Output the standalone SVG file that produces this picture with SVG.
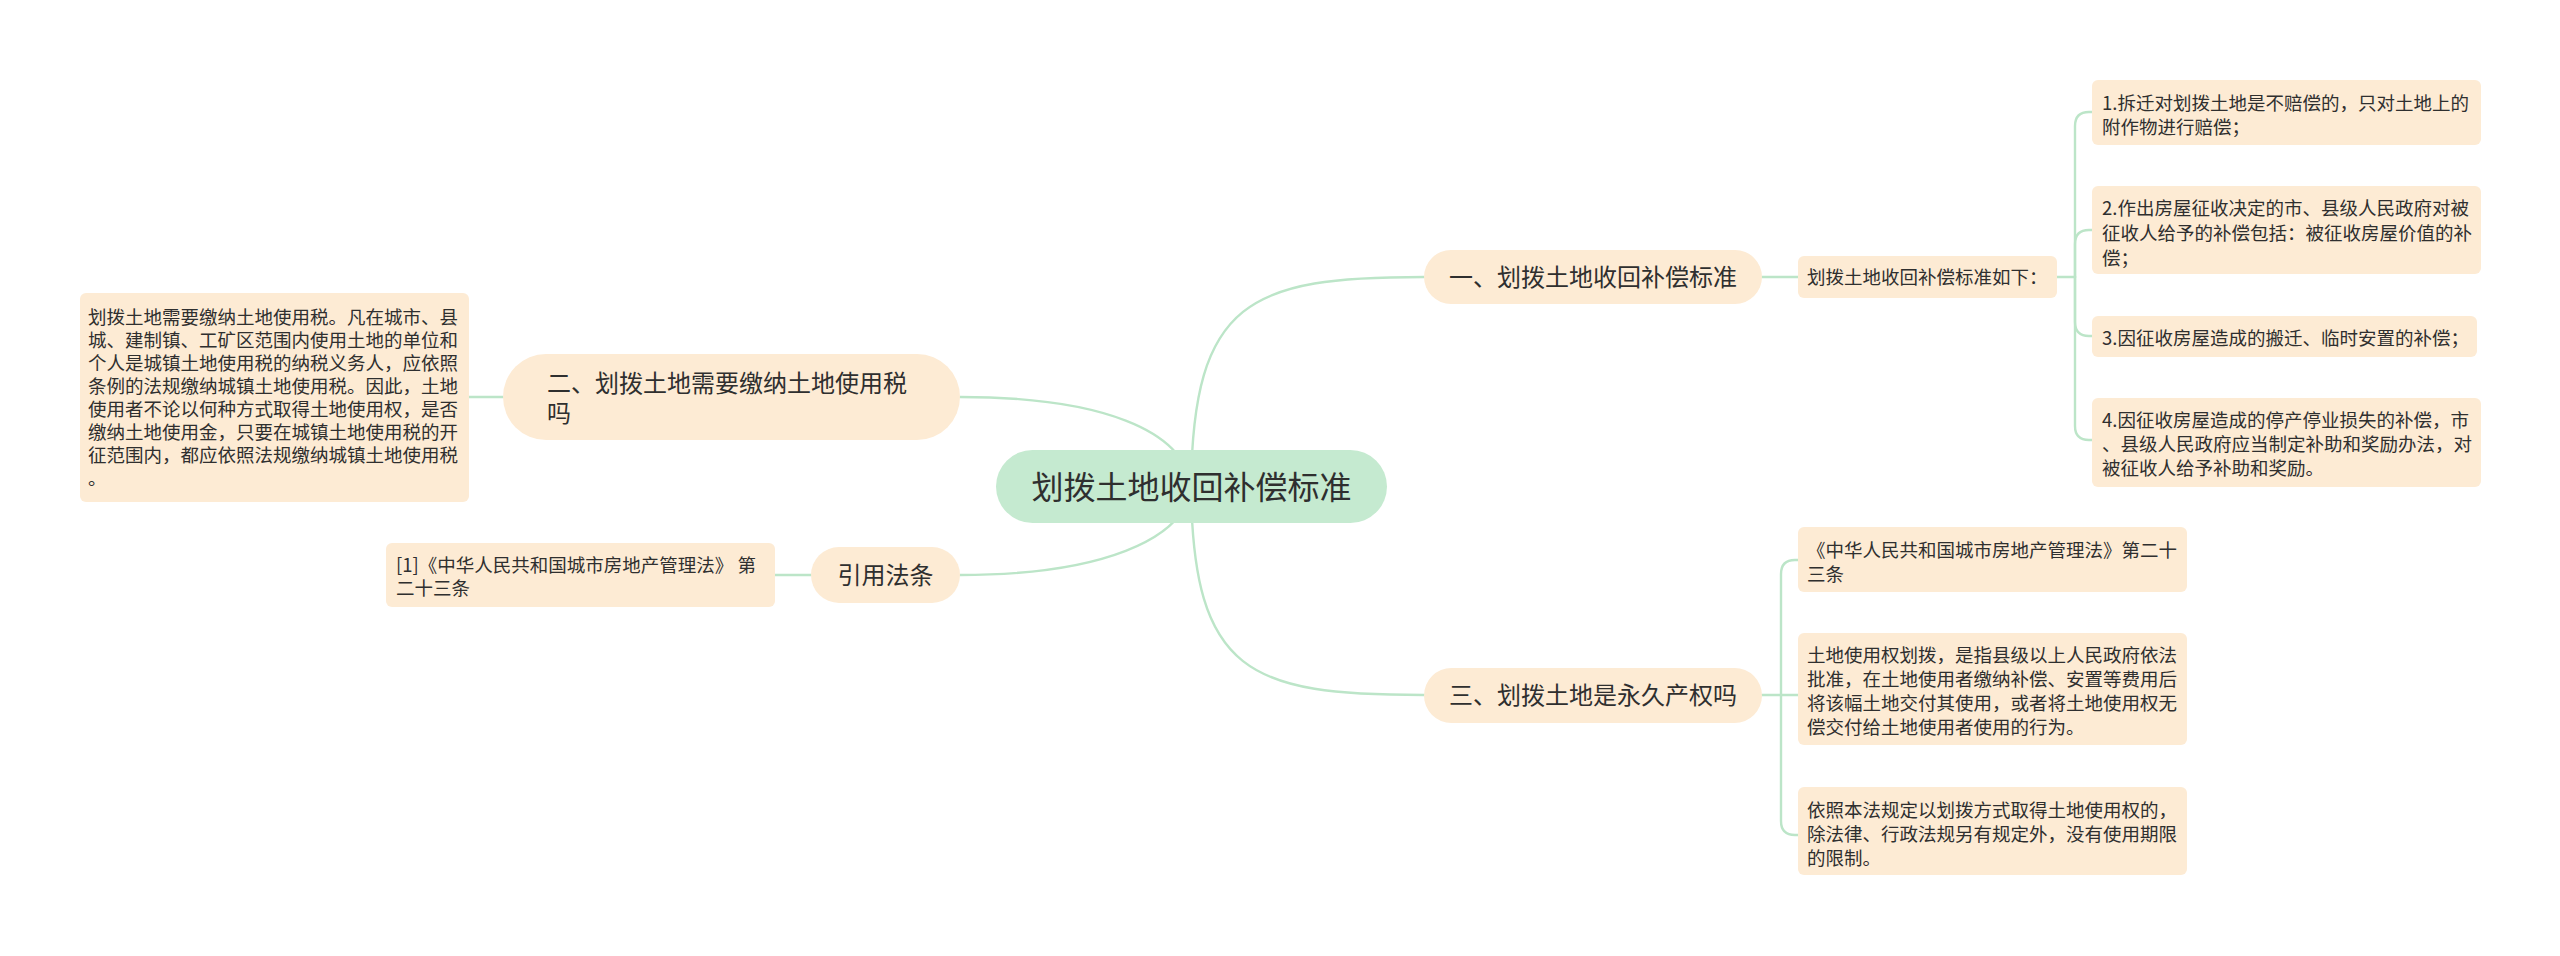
<svg xmlns="http://www.w3.org/2000/svg" width="2560" height="956" viewBox="0 0 2560 956">
<style>
.bg{fill:#ffffff}
.ln{fill:none;stroke:#bce5c8;stroke-width:2.4;stroke-linecap:round}
.pill{fill:#fdebd4}
.leaf{fill:#fdebd4}
.root{fill:#c5ead0}
text{font-family:"Noto Sans CJK SC","Noto Sans",sans-serif;fill:#2f2f2f}
.t32{font-size:32px}
.t24{font-size:24px}
.t18{font-size:18.5px}
.mid{text-anchor:middle}
</style>
<rect class="bg" x="0" y="0" width="2560" height="956"/>
<g id="connectors">
  <path class="ln" d="M1191,487 C1193,300 1250,277 1424,277"/>
  <path class="ln" d="M1191,487 C1193,674 1250,695 1424,695"/>
  <path class="ln" d="M1191,487 C1185,430 1100,397 960,397"/>
  <path class="ln" d="M1191,487 C1185,540 1100,575 960,575"/>
  <path class="ln" d="M469,397 L503,397"/>
  <path class="ln" d="M775,575 L811,575"/>
  <path class="ln" d="M1762,277 L1798,277"/>
  <path class="ln" d="M2057,277 L2075,277"/>
  <path class="ln" d="M2075,277 L2075,126 Q2075,112 2089,112 L2092,112"/>
  <path class="ln" d="M2075,277 L2075,244 Q2075,230 2089,230 L2092,230"/>
  <path class="ln" d="M2075,277 L2075,322 Q2075,336 2089,336 L2092,336"/>
  <path class="ln" d="M2075,277 L2075,426 Q2075,440 2089,440 L2092,440"/>
  <path class="ln" d="M1762,695 L1781,695"/>
  <path class="ln" d="M1781,695 L1781,574 Q1781,560 1795,560 L1798,560"/>
  <path class="ln" d="M1781,695 L1798,695"/>
  <path class="ln" d="M1781,695 L1781,821 Q1781,835 1795,835 L1798,835"/>
</g>
<g id="root">
  <rect class="root" x="996" y="450" width="391" height="73" rx="36.5"/>
  <text class="t32 mid" x="1191.5" y="499">划拨土地收回补偿标准</text>
</g>
<g id="node-1">
  <rect class="pill" x="1424" y="250" width="338" height="54" rx="27"/>
  <text class="t24 mid" x="1593" y="286">一、划拨土地收回补偿标准</text>
</g>
<g id="leaf-1-0">
  <rect class="leaf" x="1798" y="256" width="259" height="42" rx="6"/>
  <text class="t18" x="1807" y="284">划拨土地收回补偿标准如下：</text>
</g>
<g id="leaf-1-1">
  <rect class="leaf" x="2092" y="80" width="389" height="65" rx="6"/>
  <text class="t18" x="2102" y="110">1.拆迁对划拨土地是不赔偿的，只对土地上的</text>
  <text class="t18" x="2102" y="134">附作物进行赔偿；</text>
</g>
<g id="leaf-1-2">
  <rect class="leaf" x="2092" y="186" width="389" height="88" rx="6"/>
  <text class="t18" x="2102" y="215">2.作出房屋征收决定的市、县级人民政府对被</text>
  <text class="t18" x="2102" y="240">征收人给予的补偿包括：被征收房屋价值的补</text>
  <text class="t18" x="2102" y="265">偿；</text>
</g>
<g id="leaf-1-3">
  <rect class="leaf" x="2092" y="316" width="385" height="41" rx="6"/>
  <text class="t18" x="2102" y="345">3.因征收房屋造成的搬迁、临时安置的补偿；</text>
</g>
<g id="leaf-1-4">
  <rect class="leaf" x="2092" y="398" width="389" height="89" rx="6"/>
  <text class="t18" x="2102" y="427">4.因征收房屋造成的停产停业损失的补偿，市</text>
  <text class="t18" x="2102" y="451">、县级人民政府应当制定补助和奖励办法，对</text>
  <text class="t18" x="2102" y="475">被征收人给予补助和奖励。</text>
</g>
<g id="node-3">
  <rect class="pill" x="1424" y="668" width="338" height="55" rx="27.5"/>
  <text class="t24 mid" x="1593" y="704">三、划拨土地是永久产权吗</text>
</g>
<g id="leaf-3-1">
  <rect class="leaf" x="1798" y="527" width="389" height="65" rx="6"/>
  <text class="t18" x="1807" y="557">《中华人民共和国城市房地产管理法》第二十</text>
  <text class="t18" x="1807" y="581">三条</text>
</g>
<g id="leaf-3-2">
  <rect class="leaf" x="1798" y="633" width="389" height="112" rx="6"/>
  <text class="t18" x="1807" y="662">土地使用权划拨，是指县级以上人民政府依法</text>
  <text class="t18" x="1807" y="686">批准，在土地使用者缴纳补偿、安置等费用后</text>
  <text class="t18" x="1807" y="710">将该幅土地交付其使用，或者将土地使用权无</text>
  <text class="t18" x="1807" y="734">偿交付给土地使用者使用的行为。</text>
</g>
<g id="leaf-3-3">
  <rect class="leaf" x="1798" y="787" width="389" height="88" rx="6"/>
  <text class="t18" x="1807" y="817">依照本法规定以划拨方式取得土地使用权的，</text>
  <text class="t18" x="1807" y="841">除法律、行政法规另有规定外，没有使用期限</text>
  <text class="t18" x="1807" y="865">的限制。</text>
</g>
<g id="node-2">
  <rect class="pill" x="503" y="354" width="457" height="86" rx="43"/>
  <text class="t24" x="547" y="392">二、划拨土地需要缴纳土地使用税</text>
  <text class="t24" x="547" y="422">吗</text>
</g>
<g id="leaf-2-1">
  <rect class="leaf" x="80" y="293" width="389" height="209" rx="6"/>
  <text class="t18" x="88" y="324">划拨土地需要缴纳土地使用税。凡在城市、县</text>
  <text class="t18" x="88" y="347">城、建制镇、工矿区范围内使用土地的单位和</text>
  <text class="t18" x="88" y="370">个人是城镇土地使用税的纳税义务人，应依照</text>
  <text class="t18" x="88" y="393">条例的法规缴纳城镇土地使用税。因此，土地</text>
  <text class="t18" x="88" y="416">使用者不论以何种方式取得土地使用权，是否</text>
  <text class="t18" x="88" y="439">缴纳土地使用金，只要在城镇土地使用税的开</text>
  <text class="t18" x="88" y="462">征范围内，都应依照法规缴纳城镇土地使用税</text>
  <text class="t18" x="88" y="485">。</text>
</g>
<g id="node-4">
  <rect class="pill" x="811" y="547" width="149" height="56" rx="28"/>
  <text class="t24 mid" x="885.5" y="584">引用法条</text>
</g>
<g id="leaf-4-1">
  <rect class="leaf" x="386" y="543" width="389" height="64" rx="6"/>
  <text class="t18" x="396" y="572">[1]《中华人民共和国城市房地产管理法》 第</text>
  <text class="t18" x="396" y="595">二十三条</text>
</g>
</svg>
